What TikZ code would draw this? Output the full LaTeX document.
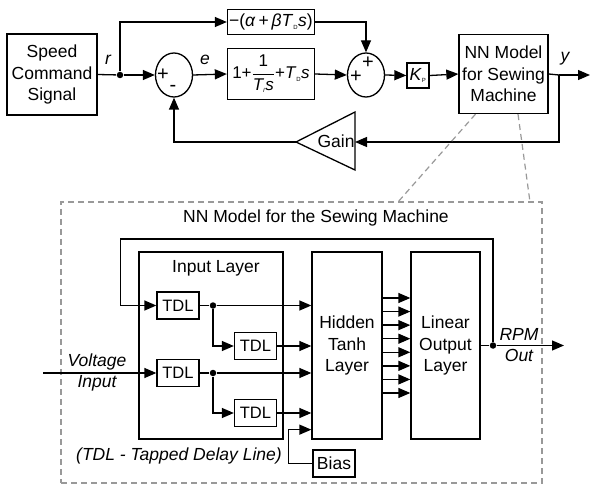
\documentclass[tikz,border=0pt]{standalone}
\usepackage{amsmath}
\usepackage{fontspec}
\setmainfont{Liberation Sans}
\usetikzlibrary{arrows.meta,positioning,shapes.geometric}
\newcommand{\sub}[1]{\textsubscript{\fontsize{6}{6}\selectfont #1}}

\begin{document}
\begin{tikzpicture}[x=1pt, y=-1pt,
    font=\fontsize{17.5}{21.5}\selectfont, line width=1.3pt,
    blk/.style={draw, line width=1.3pt, align=center, inner sep=1pt},
    tdl/.style={blk, minimum width=42pt, minimum height=27pt, font=\fontsize{16.5}{18}\selectfont},
    layer/.style={blk, minimum height=187pt},
    sumnode/.style={draw, ellipse, line width=1.3pt, minimum width=37pt, minimum height=44pt, inner sep=0pt},
    sgn/.style={font=\fontsize{20}{20}\selectfont, inner sep=0pt},
    dot/.style={circle, fill, inner sep=0pt, minimum size=6.5pt},
    lbl/.style={font=\fontsize{17.5}{21}\selectfont\itshape, align=center},
    ar/.style={-{Triangle[length=12pt,width=10pt]}},
    zoomline/.style={draw=black!40, dash pattern=on 6pt off 4pt, line width=1.2pt}]
    \useasboundingbox (0,0) rectangle (592,484);
    \node[blk, minimum width=90pt, minimum height=81pt] (cmd) at (52,74.5) {Speed\\Command\\Signal};
    \node[dot] (rj) at (120,75) {};
    \node[lbl] (rlbl) at (108,60) {r};
    \node[sumnode] (s1) at (174,75) {};
    \node[sgn] (s1p) at (163,75) {+};
    \node[sgn] (s1m) at (173,88) {-};
    \node[lbl] (elbl) at (205,60) {e};
    \node[blk, minimum width=87pt, minimum height=25pt, inner sep=0pt, font=\fontsize{17.5}{18}\selectfont] (ff) at (271,22)
      {−(\textit{α}\,+\,\textit{βT}\sub{D}\textit{s})};
    \node[blk, minimum width=87pt, minimum height=51pt, inner sep=0pt, font=\fontsize{17}{18}\selectfont] (pid) at (271,74)
      {1+$\dfrac{\mbox{1}}{\mbox{\itshape T\sub{I}s}}$+\textit{T}\sub{D}\textit{s}};
    \node[sumnode] (s2) at (366,75) {};
    \node[sgn] (s2l) at (356,77) {+};
    \node[sgn] (s2t) at (368,63) {+};
    \node[blk, minimum width=22pt, minimum height=25pt, inner sep=0pt] (kp) at (418,75.5) {\textit{K}\sub{P}};
    \node[blk, minimum width=89pt, minimum height=79pt] (nn) at (503.5,74) {NN Model\\for Sewing\\Machine};
    \coordinate (yj) at (559,75);
    \coordinate (yout) at (590,75);
    \node[lbl] (ylbl) at (565,59) {y};
    \coordinate (gR) at (355,142);
    \coordinate (gT) at (296,142);
    \draw (gT) -- (355,112) -- (355,170) -- cycle;
    \node (gain) at (336,141) {Gain};
    \draw (cmd.east) -- (rj); \draw[ar] (rj) -- (s1.west); \draw[ar] (rj) |- (ff.west);
    \draw[ar] (s1.east) -- (pid.west); \draw[ar] (pid.east) -- (s2.west); \draw[ar] (ff.east) -| (s2.north);
    \draw[ar] (s2.east) -- (kp.west); \draw[ar] (kp.east) -- (nn.west);
    \draw (nn.east) -- (yj); \draw[ar] (yj) -- (yout);
    \draw[ar] (yj) |- (gR); \draw[ar] (gT) -| (s1.south);
    \node[zoomline, draw, minimum width=481pt, minimum height=281pt, inner sep=0pt] (nnbox) at (301.5,342.5) {};
    \draw[zoomline] ([xshift=-28pt]nn.south) -- (398,202);
    \draw[zoomline] ([xshift=14.5pt]nn.south) -- (530,202);
    \node (nntitle) at (316,218) {NN Model for the Sewing Machine};
    \node[layer, minimum width=144pt] (inl) at (211,345.5) {};
    \node (inltitle) at (216,268) {Input Layer};
    \node[tdl] (t1) at (178,305.5) {TDL};
    \node[tdl] (t2) at (255.5,346) {TDL};
    \node[tdl] (t3) at (178,373) {TDL};
    \node[tdl] (t4) at (255.5,413) {TDL};
    \node[dot] (d1) at (213,305.5) {};
    \node[dot] (d2) at (213,373) {};
    \node[layer, minimum width=70pt] (hid) at (347,345.5) {Hidden\\Tanh\\Layer};
    \node[layer, minimum width=69pt] (lin) at (445.5,345.5) {Linear\\Output\\Layer};
    \node[blk, minimum width=42pt, minimum height=27pt] (bias) at (334,463.5) {Bias};
    \node[dot] (oj) at (493,345.5) {};
    \coordinate (rpmout) at (564,345.5);
    \node[lbl] (rpm) at (519,345) {RPM\\Out};
    \coordinate (vin) at (43,373);
    \node[lbl] (vlbl) at (97,372) {Voltage\\Input};
    \node[lbl] (tdlnote) at (179,456) {(TDL - Tapped Delay Line)};
    \draw[ar] (vin) -- (t3.west);
    \draw (lin.east) -- (oj); \draw[ar] (oj) -- (rpmout);
    \draw[ar] (oj) -- ++(0,-106.5) -| ([xshift=-36pt]t1.west) -- (t1.west);
    \draw (t1.east) -- (d1); \draw[ar] (d1) -- (d1 -| hid.west); \draw[ar] (d1) |- (t2.west); \draw[ar] (t2.east) -- (t2 -| hid.west);
    \draw (t3.east) -- (d2); \draw[ar] (d2) -- (d2 -| hid.west); \draw[ar] (d2) |- (t4.west); \draw[ar] (t4.east) -- (t4 -| hid.west);
    \draw[ar] (bias.west) -- ++(-24,0) |- ([yshift=10pt]hid.south west);
    \foreach \k in {0,...,7} {
      \pgfmathsetmacro\yy{298+13.57*\k}
      \draw[ar] (hid.east |- 0,\yy) -- (lin.west |- 0,\yy);
    }
  \end{tikzpicture}
\end{document}
